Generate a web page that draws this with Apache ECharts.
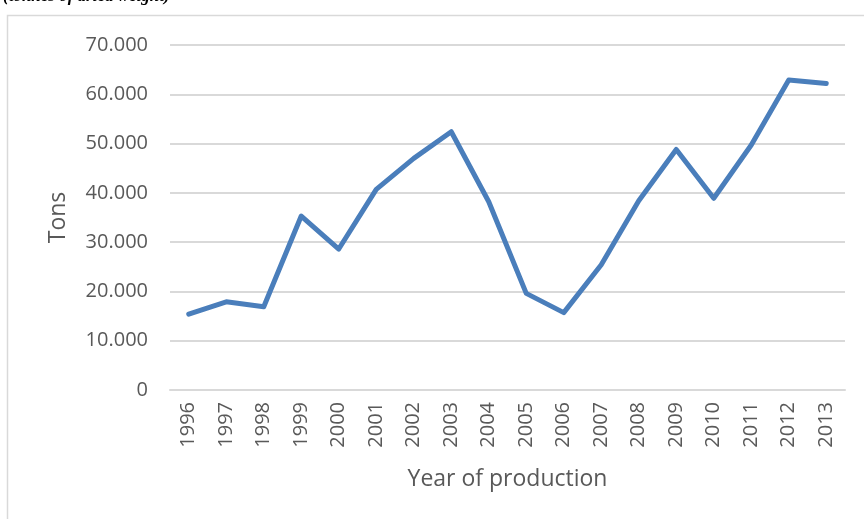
<!DOCTYPE html>
<html>
<head>
<meta charset="utf-8">
<script src="https://cdn.jsdelivr.net/npm/echarts@6/dist/echarts.min.js"></script>
<style>
html,body{margin:0;padding:0;background:#fff;}
#chart{width:864px;height:519px;}
</style>
</head>
<body>
<div id="chart"></div>
<script>
const years = ['1996','1997','1998','1999','2000','2001','2002','2003','2004','2005','2006','2007','2008','2009','2010','2011','2012','2013'];
const tons = [15400,17900,16900,35300,28600,40700,47000,52400,38200,19600,15700,25400,38400,48800,38900,49700,62900,62200];
const yTicks = [0,10000,20000,30000,40000,50000,60000,70000];
const headerText = '(tonnes of dried weight)';

function fmt(v){
  if (v === 0) return '0';
  const s = String(Math.round(v));
  return s.replace(/\B(?=(\d{3})+(?!\d))/g, '.');
}

const chart = echarts.init(document.getElementById('chart'), null, {renderer:'canvas'});
const labelFont = {fontFamily:'Open Sans', fontSize:20, color:'#595959'};
const nameFont = {fontFamily:'Open Sans', fontSize:23, color:'#595959'};
chart.setOption({
  animation:false,
  graphic:[
    {type:'rect', shape:{x:7.5,y:15.5,width:900,height:600}, style:{fill:'none', stroke:'#d9d9d9', lineWidth:1.5}, silent:true},
    {type:'text', x:3, y:5, style:{text:headerText, font:'italic bold 17px "Liberation Serif"', fill:'#000', verticalAlign:'bottom', align:'left'}}
  ],
  grid:{left:170, right:19, top:45, bottom:129},
  xAxis:{
    type:'category',
    data:years,
    boundaryGap:true,
    axisLine:{show:true, lineStyle:{color:'#d9d9d9', width:2}},
    axisTick:{show:false},
    axisLabel:Object.assign({rotate:90, margin:12, interval:0}, labelFont),
    name:'Year of production',
    nameLocation:'middle',
    nameGap:78,
    nameTextStyle:nameFont
  },
  yAxis:{
    type:'value',
    min:0, max:70000, interval:10000,
    axisLine:{show:false},
    axisTick:{show:false},
    splitLine:{lineStyle:{color:'#d9d9d9', width:2}},
    axisLabel:Object.assign({margin:22, formatter:function(v){return yTicks.indexOf(v)>=0?fmt(v):'';}}, labelFont),
    name:'Tons',
    nameLocation:'middle',
    nameGap:100,
    nameTextStyle:nameFont
  },
  series:[{
    type:'line',
    data:tons,
    symbol:'none',
    lineStyle:{color:'#4a7ebb', width:5, cap:'round', join:'round'}
  }]
});
</script>
</body>
</html>
